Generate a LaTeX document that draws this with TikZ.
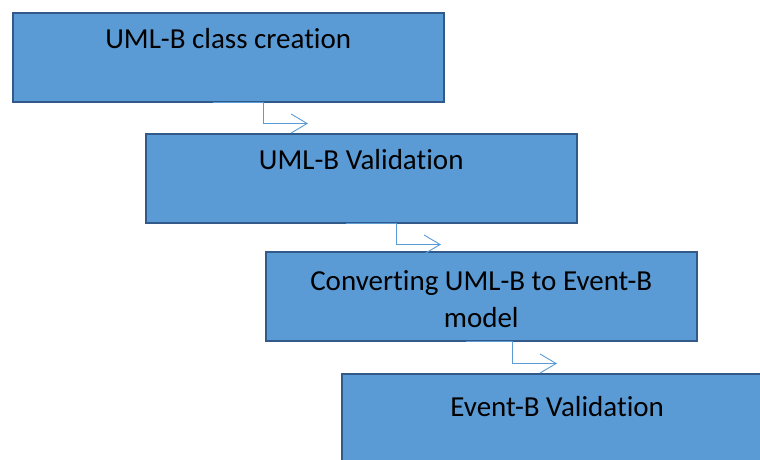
\documentclass[tikz,border=0pt]{standalone}
\usepackage{fontspec}
\setmainfont{Carlito}[Ligatures=NoCommon]
\usetikzlibrary{arrows.meta}

\definecolor{boxfill}{HTML}{5B9BD5}
\definecolor{boxedge}{HTML}{31598A}
\definecolor{flowblue}{HTML}{5B9BD5}

\tikzset{
  stagebox/.style={rectangle, draw=boxedge, fill=boxfill, line width=1.5pt,
    minimum width=431pt, minimum height=89pt, inner sep=0pt, align=center,
    anchor=north west, font=\fontsize{29}{37}\selectfont,
    text height=36pt, text depth=53pt},
  flowline/.style={draw=flowblue, line width=0.9pt,
    -{Straight Barb[length=16pt,width=19pt]}}
}

\begin{document}
\begin{tikzpicture}[x=1pt,y=-1pt]
		\useasboundingbox (0,0) rectangle (760,459);
		\clip (0,0) rectangle (760,459);

		% the four stages, stepping down to the right
		\node[stagebox] (classes) at (12,12) {UML-B class creation};
		\node[stagebox] (umlcheck) at (145,133) {UML-B Validation};
		% two lines: the baseline is the one of the last line
		\node[stagebox, text height=76pt, text depth=13pt] (convert) at (265,251)
							{Converting UML-B to Event-B\\model};
		\node[stagebox, text height=43pt, text depth=46pt] (evcheck) at (341,373)
							{Event-B Validation};

		% elbow connectors under each box
		\coordinate (tip1) at ([xshift=296pt,yshift=-21pt]classes.south west);
		\coordinate (tip2) at ([xshift=296pt,yshift=-21pt]umlcheck.south west);
		\coordinate (tip3) at ([xshift=292pt,yshift=-22pt]convert.south west);

		\draw[flowline] ([xshift=-15pt]classes.south) -- ++(50.5,0) |- (tip1);
		\draw[flowline] ([xshift=-15pt]umlcheck.south) -- ++(50,0) |- (tip2);
		\draw[flowline] ([xshift=-15pt]convert.south) -- ++(46,0) |- (tip3);
	\end{tikzpicture}
\end{document}
